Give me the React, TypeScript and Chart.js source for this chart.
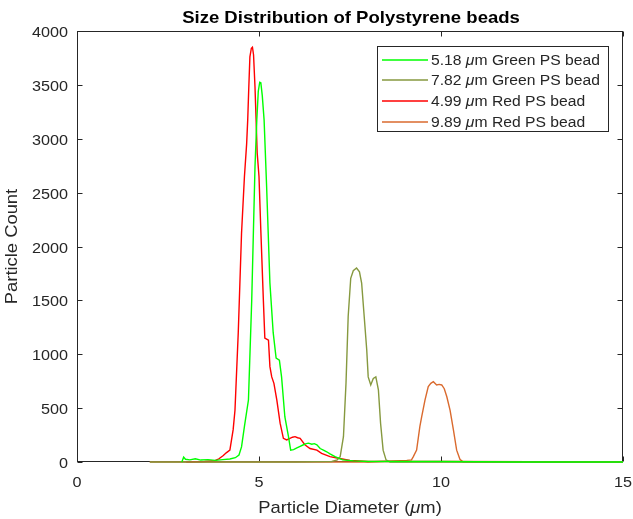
import React, { useEffect, useRef } from 'react';
import { Chart, registerables } from 'chart.js';

Chart.register(...registerables);

// ---------- data ----------
const xTickValues = [0, 5, 10, 15];
const yTickValues = [0, 500, 1000, 1500, 2000, 2500, 3000, 3500, 4000];

const green518X = [2.88, 2.93, 2.98, 3.1, 3.25, 3.4, 3.6, 3.8, 4.0, 4.2, 4.35, 4.45, 4.52, 4.6, 4.71, 4.8, 4.89, 4.94, 4.98, 5.02, 5.05, 5.09, 5.14, 5.21, 5.3, 5.39, 5.47, 5.56, 5.62, 5.71, 5.81, 5.87, 5.95, 6.04, 6.13, 6.22, 6.3, 6.36, 6.45, 6.52, 6.59, 6.68, 6.77, 6.86, 6.95, 7.09, 7.3, 7.6, 8.0, 9.0, 10.0, 12.0, 15.0];
const green518Y = [0, 45, 25, 20, 30, 18, 22, 15, 22, 28, 40, 65, 140, 330, 575, 1500, 2740, 3175, 3440, 3525, 3520, 3400, 3175, 2550, 1660, 1200, 965, 945, 790, 420, 235, 110, 115, 130, 145, 160, 170, 175, 165, 170, 160, 125, 110, 95, 75, 50, 20, 10, 5, 5, 5, 0, 0];

const green782X = [2.0, 4.0, 6.0, 7.0, 7.15, 7.23, 7.32, 7.39, 7.45, 7.52, 7.59, 7.68, 7.76, 7.82, 7.89, 7.96, 8.0, 8.07, 8.14, 8.21, 8.28, 8.34, 8.41, 8.49, 8.6, 10.0, 12.0, 15.0];
const green782Y = [0, 0, 0, 5, 20, 50, 235, 730, 1350, 1705, 1775, 1800, 1765, 1660, 1350, 1040, 790, 715, 775, 790, 670, 360, 110, 20, 0, 0, 0, 0];

const red499X = [3.0, 3.5, 3.79, 3.9, 4.02, 4.1, 4.2, 4.29, 4.34, 4.43, 4.52, 4.6, 4.66, 4.69, 4.72, 4.75, 4.79, 4.82, 4.85, 4.89, 4.95, 5.0, 5.05, 5.12, 5.16, 5.21, 5.26, 5.3, 5.35, 5.41, 5.49, 5.58, 5.67, 5.76, 5.85, 5.92, 5.99, 6.06, 6.13, 6.26, 6.4, 6.59, 6.72, 6.95, 7.18, 7.5, 8.0, 10.0, 15.0];
const red499Y = [0, 5, 12, 30, 60, 85, 110, 300, 480, 1200, 2120, 2650, 2950, 3175, 3480, 3760, 3840, 3850, 3780, 3480, 2870, 2650, 2150, 1500, 1150, 1140, 1130, 885, 790, 730, 575, 360, 220, 205, 220, 230, 235, 225, 220, 160, 125, 110, 80, 50, 35, 15, 5, 5, 0];

const red989X = [2.0, 5.0, 8.0, 9.06, 9.19, 9.24, 9.33, 9.42, 9.47, 9.56, 9.65, 9.72, 9.79, 9.88, 9.95, 10.02, 10.09, 10.16, 10.25, 10.34, 10.43, 10.52, 10.61, 12.0, 15.0];
const red989Y = [0, 0, 0, 15, 20, 50, 110, 330, 420, 575, 700, 730, 745, 715, 720, 715, 680, 605, 480, 300, 110, 25, 0, 0, 0];

const seriesSizes = ['5.18', '7.82', '4.99', '9.89'];
const seriesNames = ['Green PS bead', 'Green PS bead', 'Red PS bead', 'Red PS bead'];
const seriesColors = ['#00FF00', '#86993F', '#FF0000', '#DA6A2E'];
const seriesX = [green518X, green782X, red499X, red989X];
const seriesY = [green518Y, green782Y, red499Y, red989Y];

const titleText = 'Size Distribution of Polystyrene beads';
const yTitleText = 'Particle Count';

// ---------- drawing helpers ----------
const FAM = '"Liberation Sans", Arial, Helvetica, sans-serif';
const AX = '#262626';

type Part = { t: string; i?: boolean };

function drawRich(
  ctx: CanvasRenderingContext2D,
  parts: Part[],
  x: number,
  y: number,
  align: 'left' | 'center' | 'right',
  size: number,
  sx: number,
  bold = false,
  color = AX
) {
  const fontOf = (it?: boolean) => `${it ? 'italic ' : ''}${bold ? 'bold ' : ''}${size}px ${FAM}`;
  const widths = parts.map((p) => {
    ctx.font = fontOf(p.i);
    return ctx.measureText(p.t).width * sx;
  });
  const total = widths.reduce((a, b) => a + b, 0);
  let cx = align === 'center' ? x - total / 2 : align === 'right' ? x - total : x;
  ctx.fillStyle = color;
  ctx.textAlign = 'left';
  ctx.textBaseline = 'alphabetic';
  parts.forEach((p, k) => {
    ctx.save();
    ctx.font = fontOf(p.i);
    ctx.translate(cx, y);
    ctx.scale(sx, 1);
    ctx.fillText(p.t, 0, 0);
    ctx.restore();
    cx += widths[k];
  });
}

const axesPlugin = {
  id: 'matlabAxes',
  beforeDatasetsDraw(chart: any) {
    const { ctx, chartArea } = chart;
    const xs = chart.scales.x;
    const ys = chart.scales.y;
    const l = Math.round(chartArea.left) + 0.5;
    const r = Math.round(chartArea.right) - 0.5;
    const t = Math.round(chartArea.top) + 0.5;
    const b = Math.round(chartArea.bottom) - 0.5;
    ctx.save();
    ctx.strokeStyle = AX;
    ctx.lineWidth = 1;
    ctx.strokeRect(l, t, r - l, b - t);
    const tl = 5;
    ctx.beginPath();
    xTickValues.forEach((v) => {
      const px = Math.round(xs.getPixelForValue(v)) + 0.5;
      ctx.moveTo(px, b);
      ctx.lineTo(px, b - tl);
      ctx.moveTo(px, t);
      ctx.lineTo(px, t + tl);
    });
    yTickValues.forEach((v) => {
      const py = Math.round(ys.getPixelForValue(v)) + 0.5;
      ctx.moveTo(l, py);
      ctx.lineTo(l + tl, py);
      ctx.moveTo(r, py);
      ctx.lineTo(r - tl, py);
    });
    ctx.stroke();
    ctx.restore();
  },
  afterDraw(chart: any) {
    const { ctx, chartArea } = chart;
    const xs = chart.scales.x;
    const ys = chart.scales.y;
    ctx.save();
    // tick labels
    xTickValues.forEach((v) => {
      drawRich(ctx, [{ t: String(v) }], xs.getPixelForValue(v), chartArea.bottom + 24.5, 'center', 15, 1.08);
    });
    yTickValues.forEach((v) => {
      drawRich(ctx, [{ t: String(v) }], chartArea.left - 9, ys.getPixelForValue(v) + 6, 'right', 15, 1.08);
    });
    const cxm = (chartArea.left + chartArea.right) / 2;
    const cym = (chartArea.top + chartArea.bottom) / 2;
    // title
    drawRich(ctx, [{ t: titleText }], cxm + 1, 22.5, 'center', 17, 1.09, true, '#000000');
    // x title
    drawRich(ctx, [{ t: 'Particle Diameter (' }, { t: 'μ', i: true }, { t: 'm)' }], cxm, 513, 'center', 17, 1.08);
    // y title
    ctx.save();
    ctx.translate(17.3, cym);
    ctx.rotate(-Math.PI / 2);
    drawRich(ctx, [{ t: yTitleText }], 0, 0, 'center', 17, 1.08);
    ctx.restore();

    // legend
    const bx = 377.5, by = 46.5, bw = 231, bh = 85;
    ctx.fillStyle = '#ffffff';
    ctx.fillRect(bx, by, bw, bh);
    ctx.strokeStyle = AX;
    ctx.lineWidth = 1;
    ctx.strokeRect(bx, by, bw, bh);
    const rowY = [59.5, 80.3, 101, 121.7];
    seriesSizes.forEach((s, k) => {
      ctx.save();
      ctx.strokeStyle = seriesColors[k];
      ctx.lineWidth = 1.6;
      ctx.beginPath();
      ctx.moveTo(382, Math.round(rowY[k]));
      ctx.lineTo(428, Math.round(rowY[k]));
      ctx.stroke();
      ctx.restore();
      drawRich(
        ctx,
        [{ t: s + ' ' }, { t: 'μ', i: true }, { t: 'm ' + seriesNames[k] }],
        431,
        rowY[k] + 5,
        'left',
        14,
        1.12
      );
    });
    ctx.restore();
  },
};

export default function App() {
  const ref = useRef<HTMLCanvasElement | null>(null);
  useEffect(() => {
    if (!ref.current) return;
    const datasets = seriesX.map((xsArr, k) => ({
      label: seriesSizes[k] + ' μm ' + seriesNames[k],
      data: xsArr.map((x, j) => ({ x, y: seriesY[k][j] })),
      borderColor: seriesColors[k],
      backgroundColor: seriesColors[k],
      borderWidth: 1.4,
      pointRadius: 0,
      tension: 0,
      fill: false,
      clip: false as any,
    }));
    const chart = new Chart(ref.current, {
      type: 'line',
      data: { datasets },
      options: {
        responsive: false,
        animation: false,
        events: [],
        layout: { padding: { left: 77, right: 10, top: 31, bottom: 57 } },
        plugins: { legend: { display: false }, title: { display: false }, tooltip: { enabled: false } },
        scales: {
          x: { type: 'linear', min: 0, max: 15, display: false },
          y: { type: 'linear', min: 0, max: 4000, display: false },
        },
      },
      plugins: [axesPlugin],
    });
    return () => chart.destroy();
  }, []);
  return (
    <div style={{ position: 'fixed', left: 0, top: 0, width: 633, height: 519, background: '#fff' }}>
      <canvas ref={ref} width={633} height={519} style={{ display: 'block' }} />
    </div>
  );
}
